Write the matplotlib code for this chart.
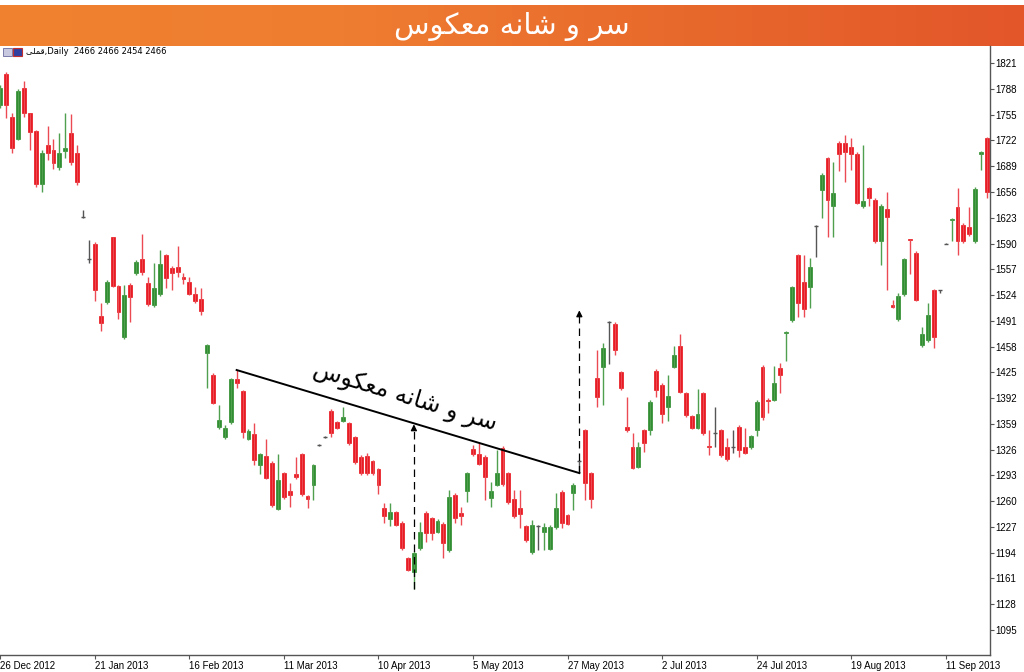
import matplotlib.pyplot as plt
import numpy as np
from matplotlib.colors import LinearSegmentedColormap
from matplotlib.patches import Rectangle

# daily OHLC (one entry per bar, left to right)
opens = [1767, 1807, 1752, 1724, 1789, 1757, 1734, 1666, 1716, 1710, 1688, 1708, 1731, 1706, 1624,
         1570, 1590, 1497, 1515, 1598, 1535, 1470, 1537, 1552, 1570, 1539, 1511, 1525, 1575, 1559,
         1560, 1547, 1541, 1526, 1519, 1450, 1422, 1355, 1342, 1361, 1416, 1401, 1340, 1346, 1306,
         1318, 1309, 1250, 1296, 1273, 1295, 1320, 1267, 1281, 1332, 1342, 1376, 1361, 1363, 1360,
         1342, 1317, 1318, 1311, 1301, 1251, 1237, 1246, 1232, 1187, 1169, 1200, 1245, 1238, 1221,
         1231, 1197, 1268, 1245, 1273, 1327, 1320, 1317, 1264, 1281, 1328, 1296, 1263, 1251, 1228,
         1195, 1228, 1220, 1199, 1227, 1272, 1242, 1271, 1312, 1351, 1296, 1418, 1432, 1489, 1487,
         1425, 1355, 1329, 1304, 1351, 1351, 1427, 1409, 1381, 1432, 1459, 1398, 1369, 1354, 1398,
         1331, 1347, 1351, 1329, 1329, 1355, 1329, 1329, 1351, 1432, 1390, 1390, 1431, 1475, 1492,
         1575, 1541, 1534, 1612, 1658, 1699, 1638, 1719, 1719, 1714, 1705, 1638, 1661, 1646, 1593,
         1634, 1511, 1493, 1525, 1596, 1578, 1460, 1466, 1530, 1530, 1590, 1620, 1637, 1614, 1611,
         1593, 1705, 1725]
highs = [1793, 1810, 1757, 1788, 1798, 1757, 1736, 1710, 1740, 1724, 1731, 1757, 1756, 1716, 1633,
         1594, 1592, 1514, 1543, 1599, 1537, 1537, 1539, 1569, 1602, 1547, 1565, 1582, 1577, 1561,
         1587, 1552, 1547, 1534, 1533, 1461, 1424, 1383, 1358, 1418, 1428, 1403, 1352, 1360, 1322,
         1340, 1311, 1320, 1298, 1283, 1317, 1322, 1268, 1308, 1333, 1343, 1378, 1363, 1381, 1362,
         1344, 1319, 1322, 1313, 1303, 1258, 1258, 1248, 1234, 1189, 1196, 1233, 1247, 1240, 1237,
         1233, 1274, 1270, 1253, 1298, 1332, 1334, 1319, 1285, 1326, 1331, 1298, 1274, 1274, 1230,
         1236, 1229, 1232, 1229, 1271, 1274, 1244, 1283, 1313, 1353, 1298, 1454, 1463, 1491, 1489,
         1427, 1393, 1347, 1336, 1353, 1389, 1429, 1411, 1421, 1459, 1474, 1400, 1371, 1404, 1400,
         1351, 1381, 1353, 1341, 1351, 1357, 1354, 1345, 1389, 1434, 1392, 1433, 1437, 1478, 1536,
         1577, 1575, 1571, 1614, 1680, 1701, 1694, 1721, 1729, 1725, 1707, 1716, 1663, 1648, 1640,
         1656, 1518, 1527, 1572, 1596, 1580, 1483, 1514, 1532, 1531, 1591, 1623, 1661, 1616, 1637,
         1662, 1708, 1727]
lows = [1764, 1751, 1706, 1722, 1752, 1710, 1662, 1656, 1697, 1685, 1684, 1699, 1690, 1665, 1623,
        1565, 1516, 1478, 1513, 1534, 1493, 1468, 1489, 1550, 1550, 1510, 1509, 1523, 1533, 1530,
        1547, 1538, 1524, 1514, 1498, 1405, 1384, 1353, 1340, 1359, 1405, 1341, 1338, 1306, 1295,
        1288, 1253, 1249, 1263, 1253, 1289, 1267, 1251, 1262, 1331, 1341, 1342, 1352, 1361, 1332,
        1308, 1294, 1294, 1294, 1269, 1232, 1228, 1228, 1198, 1170, 1148, 1198, 1208, 1210, 1219,
        1187, 1195, 1232, 1229, 1259, 1318, 1306, 1262, 1253, 1279, 1280, 1257, 1239, 1226, 1208,
        1193, 1197, 1197, 1197, 1225, 1226, 1229, 1249, 1296, 1262, 1251, 1381, 1383, 1436, 1447,
        1403, 1349, 1301, 1302, 1323, 1345, 1393, 1360, 1363, 1430, 1398, 1368, 1352, 1352, 1345,
        1319, 1329, 1317, 1312, 1322, 1317, 1320, 1327, 1343, 1364, 1373, 1388, 1398, 1439, 1490,
        1496, 1496, 1507, 1573, 1623, 1598, 1598, 1683, 1669, 1684, 1640, 1636, 1638, 1591, 1562,
        1530, 1507, 1491, 1523, 1551, 1516, 1458, 1464, 1456, 1527, 1589, 1593, 1575, 1591, 1600,
        1591, 1684, 1648]
closes = [1789, 1767, 1712, 1786, 1757, 1733, 1666, 1706, 1706, 1693, 1706, 1713, 1694, 1669, 1624,
          1570, 1530, 1488, 1541, 1535, 1502, 1524, 1521, 1566, 1553, 1512, 1533, 1564, 1546, 1552,
          1553, 1545, 1526, 1516, 1503, 1460, 1386, 1364, 1354, 1416, 1411, 1349, 1350, 1313, 1320,
          1290, 1255, 1287, 1265, 1268, 1291, 1269, 1263, 1306, 1332, 1342, 1347, 1354, 1368, 1334,
          1310, 1296, 1296, 1296, 1281, 1241, 1246, 1230, 1200, 1172, 1194, 1221, 1219, 1219, 1235,
          1206, 1265, 1238, 1241, 1296, 1320, 1308, 1291, 1273, 1296, 1282, 1259, 1241, 1244, 1210,
          1229, 1228, 1227, 1227, 1251, 1232, 1231, 1281, 1312, 1283, 1263, 1393, 1456, 1489, 1454,
          1405, 1351, 1303, 1329, 1334, 1387, 1402, 1372, 1395, 1447, 1400, 1370, 1354, 1372, 1347,
          1329, 1347, 1319, 1314, 1329, 1326, 1322, 1343, 1387, 1368, 1388, 1411, 1421, 1477, 1534,
          1514, 1506, 1560, 1612, 1678, 1646, 1655, 1705, 1707, 1705, 1642, 1644, 1648, 1593, 1638,
          1624, 1509, 1523, 1570, 1594, 1518, 1474, 1498, 1470, 1530, 1590, 1622, 1593, 1593, 1602,
          1660, 1707, 1656]

price_ticks = [1095, 1128, 1161, 1194, 1227, 1260, 1293, 1326, 1359, 1392, 1425, 1458,
               1491, 1524, 1557, 1590, 1623, 1656, 1689, 1722, 1755, 1788, 1821]
date_pos = [0, 16, 32, 48, 64, 80, 96, 112, 128, 144, 160]
date_labels = ["26 Dec 2012", "21 Jan 2013", "16 Feb 2013", "11 Mar 2013", "10 Apr 2013",
               "5 May 2013", "27 May 2013", "2 Jul 2013", "24 Jul 2013", "19 Aug 2013",
               "11 Sep 2013"]

# neckline and the two measured moves
neck_x = [40, 98]
neck_y = [1428, 1296]
move_x = [70, 98]
move_from = [1148, 1296]
move_to = [1362, 1508]

# Persian text pre-shaped (presentation forms, visual order) since matplotlib has no RTL shaping
title = "\uFEB1\uFEEE\uFEDC\uFECC\uFEE3 \uFEEA\uFEE7\uFE8E\uFEB7 \uFEED \uFEAE\uFEB3"
info = "\uFEF0\uFEE0\uFEE4\uFED7,Daily  2466 2466 2454 2466"

red = '#e8121a'
green = '#2b8a2b'
gray = '#555555'
red_wick = '#ec4a52'
green_wick = '#4f9f4f'

plt.rcParams['font.family'] = ['DejaVu Sans']
W, H = 1024, 672
fig = plt.figure(figsize=(W / 100, H / 100), dpi=100)

# orange title bar
ax_t = fig.add_axes([0, 1 - 46 / H, 1, 41 / H])
cmap = LinearSegmentedColormap.from_list('bar', ['#f0822f', '#ef7d31', '#e8692c', '#e3562a'])
ax_t.imshow(np.linspace(0, 1, 256)[None, :], aspect='auto', cmap=cmap, extent=[0, 1, 0, 1])
ax_t.set_xlim(0, 1)
ax_t.set_ylim(0, 1)
ax_t.axis('off')
ax_t.text(0.5, 0.47, title, color='white', fontsize=21, ha='center', va='center')

# chart
ax = fig.add_axes([0, 1 - 655 / H, 990 / W, 609 / H])
o = np.array(opens)
h = np.array(highs)
l = np.array(lows)
c = np.array(closes)
x = np.arange(len(o))
cols = np.where(c > o, green, np.where(c < o, red, gray))
wcols = np.where(c > o, green_wick, np.where(c < o, red_wick, gray))

ax.vlines(x, l, h, colors=wcols, lw=1)
body = c != o
ax.bar(x[body], np.abs(c - o)[body], bottom=np.minimum(o, c)[body], width=0.66,
       color=cols[body], edgecolor=cols[body], lw=0.5)
flat = ~body
ax.hlines(c[flat], x[flat] - 0.33, x[flat] + 0.33, colors=gray, lw=1)

ax.plot(neck_x, neck_y, color='black', lw=1.4)
for mx, y0, y1 in zip(move_x, move_from, move_to):
    ax.plot([mx, mx], [y0, y1 - 6], color='black', lw=0.9, ls=(0, (6, 4)))
    ax.annotate('', xy=(mx, y1), xytext=(mx, y1 - 12),
                arrowprops=dict(arrowstyle='-|>', color='black', lw=0.9, mutation_scale=9))

ax.text(68.5, 1394, title, fontsize=17, color='black', rotation=-16.8,
        rotation_mode='anchor', ha='center', va='center')

ax.set_xlim(-0.05, 167.5)
ax.set_ylim(1063, 1843)
for s in ['left', 'top']:
    ax.spines[s].set_visible(False)
for s in ['right', 'bottom']:
    ax.spines[s].set_color('#555555')
    ax.spines[s].set_linewidth(1)
ax.yaxis.tick_right()
ax.set_yticks(price_ticks)
ax.set_yticklabels([str(p) for p in price_ticks], fontsize=7, family='Liberation Sans')
ax.set_xticks(date_pos)
ax.set_xticklabels(date_labels, fontsize=7, family='Liberation Sans', ha='left')
ax.tick_params(axis='both', length=3, width=0.8, color='#555555', pad=1)

# little symbol icons + info line
fig.patches.append(Rectangle((3 / W, 1 - 56 / H), 9 / W, 8 / H, transform=fig.transFigure,
                             facecolor='#c8c8e0', edgecolor='#6a6aa0', lw=0.6))
fig.patches.append(Rectangle((13 / W, 1 - 56 / H), 9 / W, 8 / H, transform=fig.transFigure,
                             facecolor='#3040a0', edgecolor='#c03030', lw=0.8))
fig.text(26 / W, 1 - 52 / H, info, fontsize=6, va='center', ha='left')

fig.savefig('out.png', dpi=100)
